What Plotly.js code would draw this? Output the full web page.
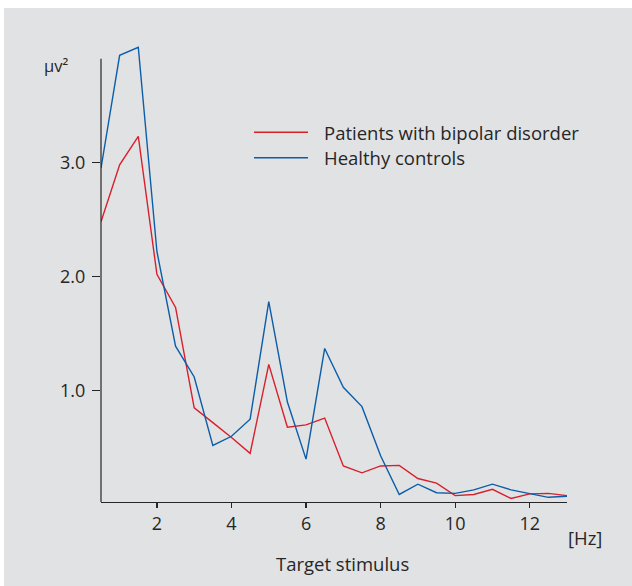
<!DOCTYPE html>
<html>
<head>
<meta charset="utf-8">
<script src="https://cdn.plot.ly/plotly-3.0.1.min.js"></script>
<style>
  html, body { margin: 0; padding: 0; background: #ffffff; }
  #chart { position: absolute; left: 4px; top: 8px; width: 628px; height: 578px; }
</style>
</head>
<body>
<div id="chart"></div>
<script>
// ---- data ----
const frequencyHz = [0.5, 1, 1.5, 2, 2.5, 3, 3.5, 4, 4.5, 5, 5.5, 6, 6.5, 7, 7.5, 8, 8.5, 9, 9.5, 10, 10.5, 11, 11.5, 12, 12.5, 13];
const patientsBipolar = [2.48, 2.98, 3.23, 2.02, 1.73, 0.85, 0.72, 0.59, 0.45, 1.23, 0.68, 0.70, 0.76, 0.34, 0.28, 0.34, 0.345, 0.23, 0.19, 0.08, 0.09, 0.135, 0.055, 0.095, 0.10, 0.08];
const healthyControls = [2.95, 3.94, 4.01, 2.22, 1.39, 1.12, 0.52, 0.60, 0.75, 1.78, 0.90, 0.40, 1.37, 1.03, 0.86, 0.43, 0.09, 0.18, 0.105, 0.10, 0.13, 0.18, 0.13, 0.095, 0.065, 0.075];
const seriesNames = ["Patients with bipolar disorder", "Healthy controls"];
const xTickVals = [2, 4, 6, 8, 10, 12];
const yTickVals = [1, 2, 3];
const yTickText = ["1.0", "2.0", "3.0"];
const yUnit = "μv²";
const xUnit = "[Hz]";
const xTitle = "Target stimulus";

// ---- layout geometry (page pixels -> paper) ----
const OFF_X = 4, OFF_Y = 8;
const M = { l: 97, r: 65, t: 37, b: 84 };
const W = 628, H = 578;
const PW = W - M.l - M.r, PH = H - M.t - M.b;
const px = x => (x - OFF_X - M.l) / PW;
const py = y => 1 - (y - OFF_Y - M.t) / PH;

const RED = "#d8202b", BLUE = "#0c5da8", INK = "#262626", BG = "#e1e2e4";
const FONT = "Open Sans, Noto Sans, sans-serif";
const FS = 18.5;

const traces = [
  { x: frequencyHz, y: patientsBipolar, name: seriesNames[0], mode: "lines", line: { color: RED, width: 1.4 }, showlegend: false, hoverinfo: "skip" },
  { x: frequencyHz, y: healthyControls, name: seriesNames[1], mode: "lines", line: { color: BLUE, width: 1.4 }, showlegend: false, hoverinfo: "skip" }
];

const layout = {
  width: W, height: H,
  margin: M,
  paper_bgcolor: BG, plot_bgcolor: BG,
  font: { family: FONT, size: FS, color: INK },
  showlegend: false,
  xaxis: {
    range: [0.5, 13], tickvals: xTickVals, ticks: "outside", ticklen: 5, tickwidth: 1.2, tickcolor: INK,
    showline: true, linecolor: INK, linewidth: 1.2, showgrid: false, zeroline: false,
    tickfont: { size: 18, color: INK }, fixedrange: true
  },
  yaxis: {
    range: [0.024, 4.03], tickvals: yTickVals, ticktext: yTickText, ticks: "outside", ticklen: 8, tickwidth: 1.2, tickcolor: INK,
    showline: false, showgrid: false, zeroline: false, ticklabelstandoff: 3,
    tickfont: { size: 18, color: INK }, fixedrange: true
  },
  shapes: [
    { type: "line", xref: "paper", yref: "y", x0: 0, x1: 0, y0: 0.024, y1: 3.91, line: { color: INK, width: 1.2 } },
    { type: "line", xref: "paper", yref: "paper", x0: px(254), x1: px(308), y0: py(132.3), y1: py(132.3), line: { color: RED, width: 1.4 } },
    { type: "line", xref: "paper", yref: "paper", x0: px(254), x1: px(308), y0: py(157.7), y1: py(157.7), line: { color: BLUE, width: 1.4 } }
  ],
  annotations: [
    { xref: "paper", yref: "paper", x: px(322), y: py(132), xanchor: "left", yanchor: "middle", text: seriesNames[0], showarrow: false, font: { size: FS, color: INK } },
    { xref: "paper", yref: "paper", x: px(322), y: py(157.5), xanchor: "left", yanchor: "middle", text: seriesNames[1], showarrow: false, font: { size: FS, color: INK } },
    { xref: "paper", yref: "paper", x: px(42), y: py(66), xanchor: "left", yanchor: "middle", text: yUnit, showarrow: false, font: { size: 16.5, color: INK } },
    { xref: "paper", yref: "paper", x: px(585), y: py(537), xanchor: "center", yanchor: "middle", text: xUnit, showarrow: false, font: { size: FS, color: INK } },
    { xref: "paper", yref: "paper", x: px(342), y: py(563), xanchor: "center", yanchor: "middle", text: xTitle, showarrow: false, font: { size: FS, color: INK } }
  ]
};

Plotly.newPlot("chart", traces, layout, { staticPlot: true, displayModeBar: false });
</script>
</body>
</html>
